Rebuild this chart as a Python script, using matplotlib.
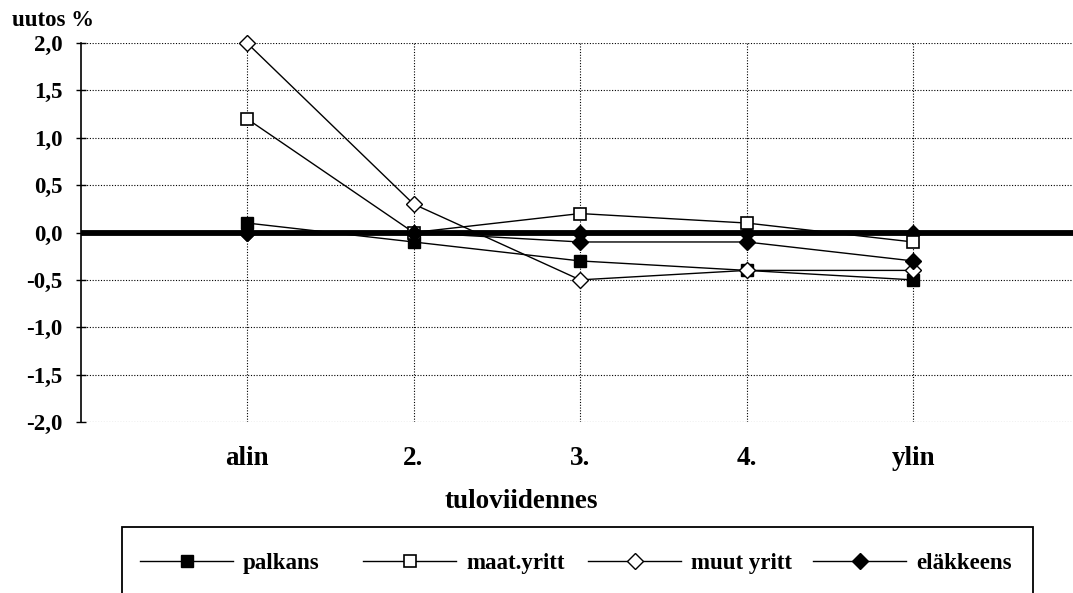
import matplotlib
matplotlib.use("Agg")
import matplotlib.pyplot as plt
from matplotlib.patches import Rectangle

# Datos
kategoriat = ["alin", "2.", "3.", "4.", "ylin"]
palkans = [0.1, -0.1, -0.3, -0.4, -0.5]
maat_yritt = [1.2, 0.0, 0.2, 0.1, -0.1]
muut_yritt = [2.0, 0.3, -0.5, -0.4, -0.4]
elakkeens = [0.0, 0.0, -0.1, -0.1, -0.3]
yhteensa = [0.0, 0.0, 0.0, 0.0, 0.0]
y_ticks = [-2.0, -1.5, -1.0, -0.5, 0.0, 0.5, 1.0, 1.5, 2.0]

plt.rcParams['font.family'] = ['Liberation Serif', 'DejaVu Serif']
plt.rcParams['font.weight'] = 'bold'

fig = plt.figure(figsize=(10.73, 5.93), dpi=100)
ax = fig.add_axes([81 / 1073, 1 - 422 / 593, 1 - 81 / 1073, 379 / 593])

x = list(range(len(kategoriat)))
ax.axhline(0, color='black', lw=4.2, zorder=2)
ax.plot(x, yhteensa, ls='none', marker='D', ms=8.5, color='black', zorder=2)

lineas = []
lineas.append(ax.plot(x, palkans, color='black', lw=1, marker='s', ms=8.5,
                      mfc='black', mec='black', label='palkans', zorder=3, clip_on=False)[0])
lineas.append(ax.plot(x, maat_yritt, color='black', lw=1, marker='s', ms=8.5,
                      mfc='white', mec='black', mew=1.2, label='maat.yritt', zorder=3, clip_on=False)[0])
lineas.append(ax.plot(x, muut_yritt, color='black', lw=1, marker='D', ms=8.5,
                      mfc='white', mec='black', mew=1.0, label='muut yritt', zorder=3, clip_on=False)[0])
lineas.append(ax.plot(x, elakkeens, color='black', lw=1, marker='D', ms=8.5,
                      mfc='black', mec='black', label='eläkkeens', zorder=3, clip_on=False)[0])

ax.set_xlim(-0.997, 4.96)
ax.set_ylim(-2.0, 2.0)
ax.set_xticks(x)
ax.set_xticklabels(kategoriat)
ax.set_yticks(y_ticks)
ax.set_yticklabels([f"{v:.1f}".replace('.', ',') for v in y_ticks])

ax.grid(True, color='black', ls=(0, (1, 1.5)), lw=0.8)
for s in ['top', 'right', 'bottom']:
    ax.spines[s].set_visible(False)
ax.spines['left'].set_linewidth(1.2)
ax.tick_params(axis='y', direction='inout', length=7, width=1, labelsize=16.5, pad=10)
ax.tick_params(axis='x', length=0, labelsize=19.5, pad=17)
for lab in ax.get_xticklabels() + ax.get_yticklabels():
    lab.set_fontweight('bold')

fig.text(12 / 1073, 1 - 20 / 593, "uutos %", fontsize=16.5, fontweight='bold', va='center')
fig.text(521 / 1073, 1 - 502 / 593, "tuloviidennes", fontsize=19.5,
         fontweight='bold', ha='center', va='center')

# Leyenda: marco aparte y columnas de ancho fijo
fig.patches.append(Rectangle((122 / 1073, -0.1), (1033 - 122) / 1073, 0.1 + 1 - 527 / 593,
                             transform=fig.transFigure, fill=False, ec='black', lw=1.3))
inicios = [140, 363, 588, 813]
for linea, x0 in zip(lineas, inicios):
    leg = fig.legend(handles=[linea], loc='center left', bbox_to_anchor=(x0 / 1073, 1 - 563 / 593),
                     frameon=False, fontsize=16.5, handlelength=4.06, handletextpad=0.44,
                     borderaxespad=0, borderpad=0)
    for t in leg.get_texts():
        t.set_fontweight('bold')

fig.savefig("out.png", dpi=100)
